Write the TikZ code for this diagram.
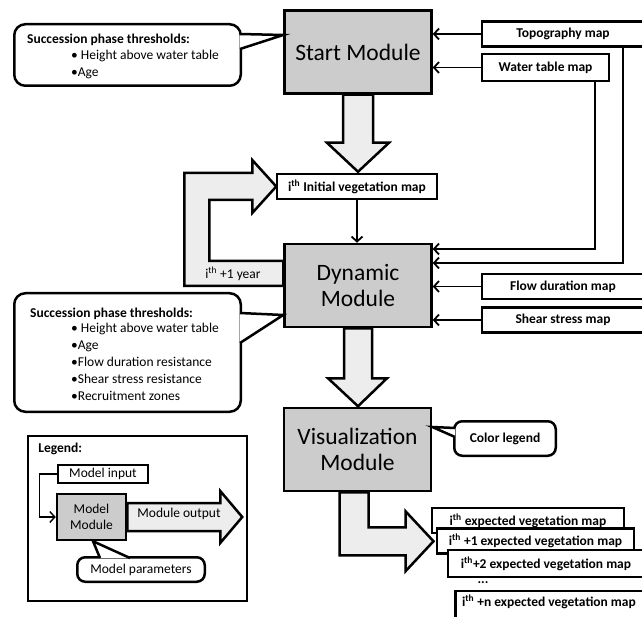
\documentclass[tikz,border=0pt]{standalone}
\usepackage{fontspec}
\setmainfont{Carlito}
\usetikzlibrary{arrows.meta, positioning}

\begin{document}
\begin{tikzpicture}[
            x = 1pt, y = -1pt,
            module/.style = {
                rectangle,
                draw            = black,
                line width      = 2.5pt,
                fill            = black!20,
                align           = center,
                font            = \fontsize{23.5}{26}\selectfont,
                minimum width   = 147pt,
                minimum height  = 83pt
            },
            mapbox/.style = {
                rectangle,
                draw            = black,
                line width      = 2.5pt,
                fill            = white,
                font            = \fontsize{13.5}{15}\selectfont\bfseries,
                inner sep       = 0pt,
                minimum height  = 25pt
            },
            legbox/.style = {
                mapbox,
                font            = \fontsize{13.5}{15}\selectfont
            },
            callbox/.style = {
                rectangle,
                draw            = black,
                line width      = 2.5pt,
                fill            = white,
                rounded corners = 11pt
            },
            pointer/.style = {
                draw            = black,
                fill            = white,
                line width      = 2.5pt,
                line join       = miter
            },
            fatarrow/.style = {
                draw            = black,
                line width      = 2.5pt,
                fill            = black!7,
                line join       = miter
            },
            note/.style = {
                font            = \fontsize{13.5}{17}\selectfont,
                align           = left,
                inner sep       = 0pt
            },
            feed/.style = {-{Straight Barb[length=5pt, width=11pt]}, line width=1.8pt}
        ]

            \useasboundingbox (0,0) rectangle (642,617);
            \clip (0,0) rectangle (642,617);

            % modules
            \node[module] (start) at (358,52)    {Start Module};
            \node[module] (dyn)   at (358,285.5) {Dynamic\\Module};
            \node[module] (vis)   at (357.5,449.5) {Visualization\\Module};

            % input maps
            \node[mapbox, minimum width=162pt] (topo)  at (563,34)  {Topography map};
            \node[mapbox, minimum width=127pt, minimum height=27pt,
                  below=5pt of topo.south west, anchor=north west] (water) {Water table map};
            \node[mapbox, minimum width=162pt] (flow)  at (563,286.5) {Flow duration map};
            \node[mapbox, minimum width=162pt, below=6pt of flow] (shear) {Shear stress map};
            \node[mapbox, minimum width=160pt] (init)  at (357,186.5)
                {i\textsuperscript{th} Initial vegetation map};

            % output maps
            \node[mapbox, minimum width=192pt] (exp0) at (528,520.5)
                {i\textsuperscript{th} expected vegetation map};
            \node[mapbox, minimum width=197pt] (exp1) at (535.5,541)
                {i\textsuperscript{th} +1 expected vegetation map};
            \node[mapbox, minimum width=196pt, minimum height=27pt] (exp2) at (546,563.5)
                {i\textsuperscript{th}+2 expected vegetation map};
            \node[font=\fontsize{13.5}{15}\selectfont\bfseries] (dots) at (483,583) {...};
            \node[mapbox, minimum width=203pt, minimum height=28pt, text depth=8pt] (expn) at (557,605)
                {i\textsuperscript{th} +n expected vegetation map\hspace*{16pt}};

            % thin connectors
            \draw[feed] (topo.west)  -- (topo.west -| start.east);
            \draw[feed] (water.west) -- (water.west -| start.east);
            \draw[feed] (flow.west)  -- (flow.west -| dyn.east);
            \draw[feed] (shear.west) -- (shear.west -| dyn.east);
            \draw[feed] ([xshift=60pt]topo.south)  |- ([yshift=22.5pt]dyn.east);
            \draw[feed] ([xshift=49.5pt]water.south) |- ([yshift=36.5pt]dyn.east);
            \draw[feed] (init.south) -- (init.south |- dyn.north);

            % fat arrows
            \draw[fatarrow, shift={(start.south)}]
                (-15,0) -- (-15,48) -- (-31,48) -- (0,77) -- (31,48) -- (15,48) -- (15,0) -- cycle;
            \draw[fatarrow, shift={(dyn.south)}]
                (-14,0) -- (-14,50) -- (-30,50) -- (0,78) -- (29,50) -- (14,50) -- (14,0) -- cycle;
            \draw[fatarrow, shift={(dyn.west)}]
                (0,0.5) -- (-99,0.5) -- (-99,-112.5) -- (-31,-112.5) -- (-31,-125.5)
                -- (-7,-99) -- (-31,-72.5) -- (-31,-85.5) -- (-74,-85.5) -- (-74,-24.5)
                -- (0,-24.5) -- cycle;
            \draw[fatarrow, shift={(vis.south)}]
                (-18,0) -- (-18,63) -- (48,63) -- (48,79) -- (76,49) -- (48,19) -- (48,35)
                -- (11,35) -- (11,0) -- cycle;
            \node[note] (nextyear) at (233,274) {i\textsuperscript{th} +1 year};

            % parameter callouts
            \node[callbox, minimum width=226.5pt, minimum height=61.5pt] (call1) at (127.5,55) {};
            \filldraw[pointer] (240,34) -- ([yshift=17pt]start.west) -- (240,49);
            \node[note, font=\fontsize{13.5}{17}\selectfont\bfseries, anchor=west] (title1) at (27,40)
                {Succession phase thresholds:};
            \node[note, anchor=north west] (list1) at (71,50)
                {• Height above water table\\•Age};

            \node[callbox, minimum width=226.5pt, minimum height=118.5pt] (call2) at (127.5,352.5) {};
            \filldraw[pointer] (240,313) -- ([yshift=-29.5pt]dyn.west) -- (240,343);
            \node[note, font=\fontsize{13.5}{17}\selectfont\bfseries, anchor=west] (title2) at (30,314)
                {Succession phase thresholds:};
            \node[note, anchor=north west] (list2) at (71,323)
                {• Height above water table\\•Age\\•Flow duration resistance\\%
                 •Shear stress resistance\\•Recruitment zones};

            \node[callbox, rounded corners=8pt, minimum width=101.5pt, minimum height=34.5pt,
                  font=\fontsize{13.5}{15}\selectfont\bfseries] (colorleg) at (505,438.5) {Color legend};
            \filldraw[pointer] (455,428) -- ([yshift=22.5pt]vis.east) -- (455,437);

            % legend
            \node[draw, line width=1.6pt, minimum width=219pt, minimum height=165pt] (legend)
                at (137.5,518.5) {};
            \node[note, font=\fontsize{13.5}{15}\selectfont\bfseries, anchor=north west] (legtitle)
                at ([xshift=11pt, yshift=-8pt]legend.north west) {Legend:};
            \node[legbox, minimum width=90pt, minimum height=18pt] (minput) at (103,474) {Model input};
            \node[module, font=\fontsize{13.5}{16}\selectfont, minimum width=69pt, minimum height=46pt]
                (mmod) at (91.5,517) {Model\\Module};
            \draw[feed, line width=1.4pt] (minput.west) -| ([xshift=-16pt]mmod.west) -- (mmod.west);
            \draw[fatarrow, shift={(mmod.east)}]
                (0,-14) -- (93,-14) -- (93,-26) -- (115,0) -- (93,26) -- (93,14) -- (0,14) -- cycle;
            \node[font=\fontsize{13.5}{15}\selectfont] (mout) at (179,514) {Module output};
            \node[callbox, rounded corners=8pt, minimum width=127.5pt, minimum height=24.5pt,
                  font=\fontsize{13.5}{15}\selectfont] (mpar) at (141,569.5) {Model parameters};
            \filldraw[pointer] (100,558) -- ([xshift=1.5pt]mmod.south) -- (130,558);
        \end{tikzpicture}
\end{document}
